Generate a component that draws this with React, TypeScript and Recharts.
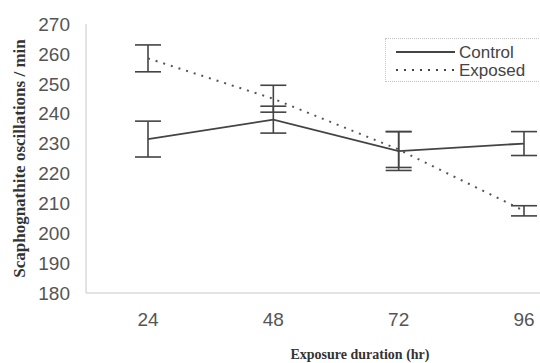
import React from 'react'
import { LineChart, Line, XAxis, YAxis, ErrorBar, Legend } from "recharts";

const hours = ["24", "48", "72", "96"];
const control = [231.5, 238, 227.5, 230];
const controlErr = [6, 4.5, 6.5, 4];
const exposed = [258.5, 245, 228, 207.5];
const exposedErr = [4.5, 4.5, 6, 1.7];
const yTicks = [180, 190, 200, 210, 220, 230, 240, 250, 260, 270];

const chartData = hours.map((h, i) => ({
    hour: h,
    control: control[i],
    controlErr: controlErr[i],
    exposed: exposed[i],
    exposedErr: exposedErr[i],
}));

const tickFont = { fontFamily: "Liberation Sans, Arial, sans-serif", fontSize: 19, fill: "#555" };
const xTitleFont = { fontFamily: "Liberation Serif, Times New Roman, serif", fontSize: 14, fontWeight: 700, fill: "#333" };
const yTitleFont = { fontFamily: "Liberation Serif, Times New Roman, serif", fontSize: 17, fontWeight: 700, fill: "#333" };

function LegendBox({ payload }: any) {
    return (
        <div style={{ border: "1px dotted #c4c4c4", width: 170, height: 44, boxSizing: "border-box", position: "relative" }}>
            {(payload || []).map((p: any, i: number) => (
                <div key={p.value} style={{ position: "absolute", left: 10, top: 4 + i * 18, height: 18, display: "flex", alignItems: "center" }}>
                    <svg width={60} height={18}>
                        <line x1={0} y1={9} x2={59} y2={9} stroke="#444" strokeWidth={1.8}
                            strokeDasharray={p.payload && p.payload.strokeDasharray} />
                    </svg>
                    <span style={{ fontFamily: "Liberation Sans, Arial, sans-serif", fontSize: 17, color: "#444", marginLeft: 3, lineHeight: "17px" }}>{p.value}</span>
                </div>
            ))}
        </div>
    );
}

export default function App() {
    return (
        <div style={{ position: "absolute", left: 0, top: 0, width: 540, height: 363, overflow: "hidden", background: "#fff" }}>
            <LineChart width={600} height={363} data={chartData} margin={{ top: 24, right: 14, bottom: 0, left: 0 }}>
                <XAxis dataKey="hour" height={70} padding={{ left: 62, right: 62 }} tickLine={false}
                    stroke="#c8c8c8" tick={tickFont} tickMargin={14}
                    label={{ value: "Exposure duration (hr)", position: "center", dx: 24, dy: 26, style: xTitleFont }} />
                <YAxis domain={[180, 270]} ticks={yTicks} width={86} tickLine={false} stroke="#c8c8c8"
                    tick={tickFont} tickMargin={10} interval={0}
                    label={{ value: "Scaphognathite oscillations / min", angle: -90, position: "center", dx: -24, style: yTitleFont }} />
                <Legend layout="horizontal" verticalAlign="middle" align="center" content={<LegendBox />}
                    wrapperStyle={{ left: 385, top: 38, width: 170, height: 44 }} />
                <Line dataKey="control" name="Control" stroke="#444" strokeWidth={1.8} dot={false} isAnimationActive={false}>
                    <ErrorBar dataKey="controlErr" width={13} stroke="#444" strokeWidth={1.6} isAnimationActive={false} />
                </Line>
                <Line dataKey="exposed" name="Exposed" stroke="#555" strokeWidth={2} strokeDasharray="2 6" dot={false} isAnimationActive={false}>
                    <ErrorBar dataKey="exposedErr" width={13} stroke="#444" strokeWidth={1.6} isAnimationActive={false} />
                </Line>
            </LineChart>
        </div>
    )
}
